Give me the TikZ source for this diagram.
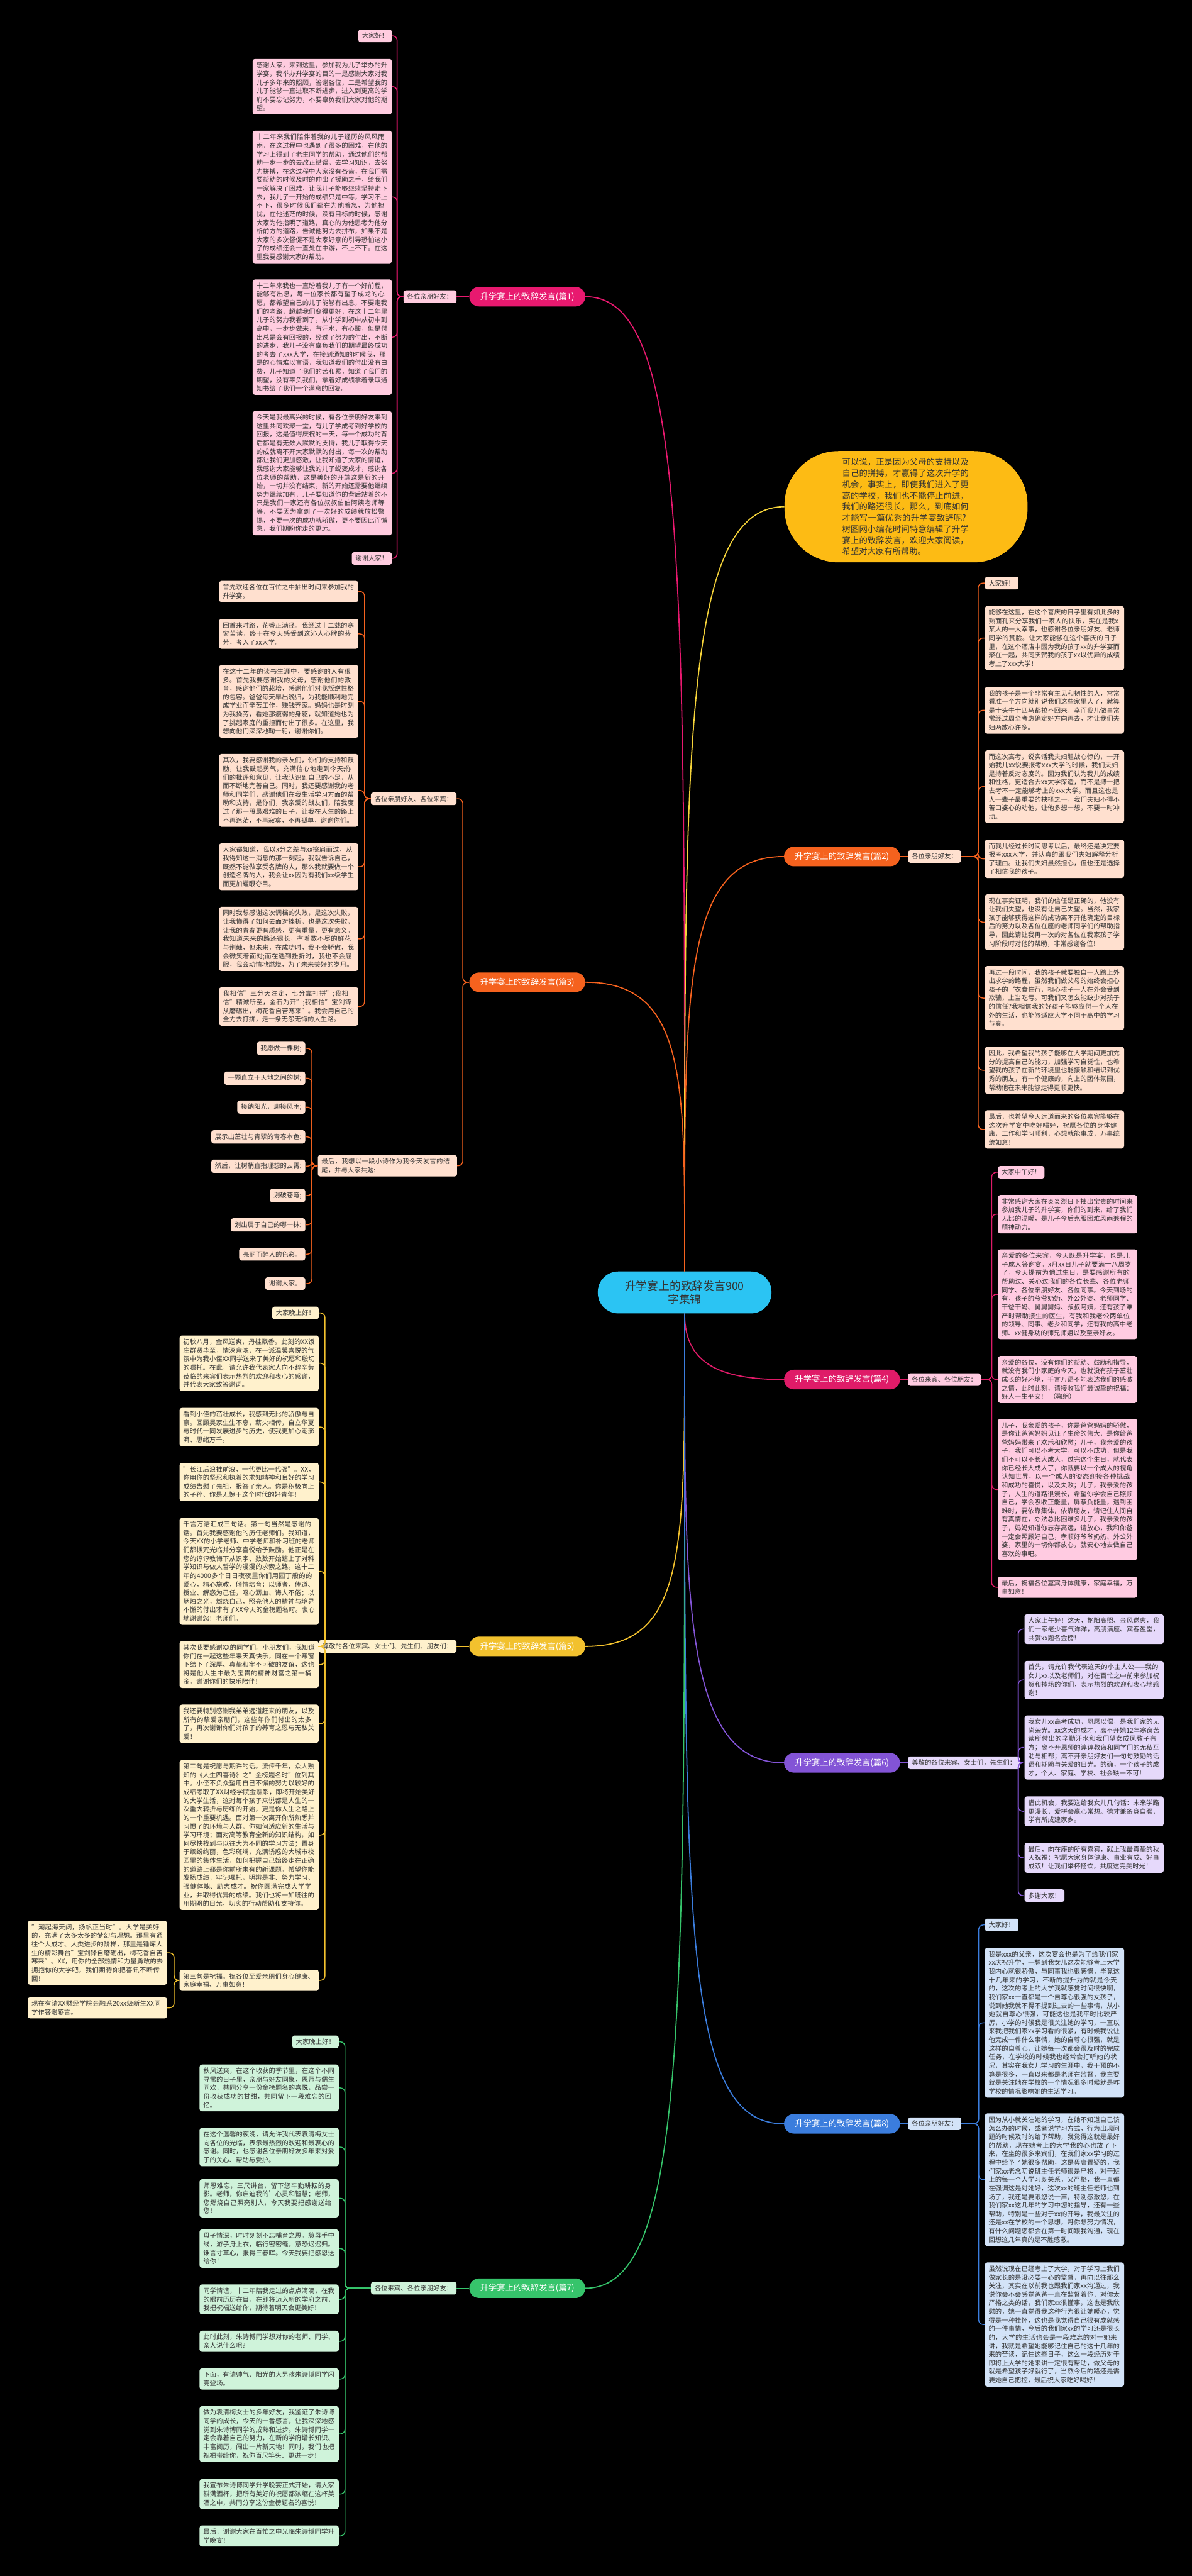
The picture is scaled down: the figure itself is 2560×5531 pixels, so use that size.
\documentclass[tikz,border=0pt]{standalone}
\usepackage{fontspec}
\setmainfont{Noto Sans CJK SC}
\XeTeXlinebreaklocale "zh"
\XeTeXlinebreakskip = 0pt plus 1pt
\definecolor{txt}{HTML}{333333}
\definecolor{cA}{HTML}{E8196F}\definecolor{fA}{HTML}{FFCCDF}
\definecolor{cB}{HTML}{F5621E}\definecolor{fB}{HTML}{FFE0CF}
\definecolor{cD}{HTML}{DF1B68}\definecolor{fD}{HTML}{FFCBE1}
\definecolor{cE}{HTML}{F2C12E}\definecolor{fE}{HTML}{FFF1CC}
\definecolor{cF}{HTML}{8354D6}\definecolor{fF}{HTML}{E6D9FB}
\definecolor{cG}{HTML}{36C46B}\definecolor{fG}{HTML}{CFF3DA}
\definecolor{cH}{HTML}{3B7DDD}\definecolor{fH}{HTML}{D3E3F8}
\definecolor{cY}{HTML}{F5D33A}\definecolor{fY}{HTML}{FDBB14}
\definecolor{fC}{HTML}{2BC4F3}
\begin{document}
\begin{tikzpicture}[x=0.5pt,y=-0.5pt,
  bx/.style={rounded corners=2.5pt, inner xsep=4pt, inner ysep=3.5pt, align=left, text=txt, font=\fontsize{7pt}{9.2pt}\selectfont},
  w/.style={text width=141.5pt},
  lab/.style={rounded corners=10.5pt, minimum width=124.5pt, minimum height=21pt, inner sep=2pt, text=white, font=\fontsize{9pt}{11pt}\selectfont},
  ln/.style={line width=1pt, rounded corners=5pt},
  mc/.style={line width=1.2pt},
  bA/.style={bx, fill=fA}, lA/.style={ln, draw=cA},
  bB/.style={bx, fill=fB}, lB/.style={ln, draw=cB},
  bD/.style={bx, fill=fD}, lD/.style={ln, draw=cD},
  bE/.style={bx, fill=fE}, lE/.style={ln, draw=cE},
  bF/.style={bx, fill=fF}, lF/.style={ln, draw=cF},
  bG/.style={bx, fill=fG}, lG/.style={ln, draw=cG},
  bH/.style={bx, fill=fH}, lH/.style={ln, draw=cH}
]
\fill[black] (0,0) rectangle (2560,5531);
\useasboundingbox (0,0) rectangle (2560,5531);

% center
\node[fill=fC, rounded corners=22pt, minimum width=186.5pt, minimum height=45pt, align=center, text=txt, font=\fontsize{12pt}{14pt}\selectfont] (c) at (1470.5,2775) {升学宴上的致辞发言900\\字集锦};

% yellow note
\node[fill=fY, rounded corners=58pt, minimum width=261pt, minimum height=119.5pt, text width=137pt, align=left, text=txt, font=\fontsize{9pt}{12pt}\selectfont] (n) at (1946,1088) {可以说，正是因为父母的支持以及自己的拼搏，才赢得了这次升学的机会，事实上，即使我们进入了更高的学校，我们也不能停止前进，我们的路还很长。那么，到底如何才能写一篇优秀的升学宴致辞呢?树图网小编花时间特意编辑了升学宴上的致辞发言，欢迎大家阅读，希望对大家有所帮助。};

% branch labels
\node[lab, fill=cA] (l1) at (1132.5,637) {升学宴上的致辞发言(篇1)};
\node[lab, fill=cB] (l2) at (1808.5,1839) {升学宴上的致辞发言(篇2)};
\node[lab, fill=cB] (l3) at (1132.5,2109) {升学宴上的致辞发言(篇3)};
\node[lab, fill=cD] (l4) at (1808.5,2962) {升学宴上的致辞发言(篇4)};
\node[lab, fill=cE] (l5) at (1132.5,3535) {升学宴上的致辞发言(篇5)};
\node[lab, fill=cF] (l6) at (1808.5,3785) {升学宴上的致辞发言(篇6)};
\node[lab, fill=cG] (l7) at (1132.5,4913) {升学宴上的致辞发言(篇7)};
\node[lab, fill=cH] (l8) at (1808.5,4560) {升学宴上的致辞发言(篇8)};

\draw[mc, cA] (c.north) .. controls +(0,-1500) and +(220,0) .. (l1.east);
\draw[mc, cY] (c.north) .. controls +(0,-1100) and +(-220,0) .. (n.west);
\draw[mc, cB] (c.north) .. controls +(0,-600) and +(-220,0) .. (l2.west);
\draw[mc, cB] (c.north) .. controls +(0,-400) and +(220,0) .. (l3.east);
\draw[mc, cD] (c.south) .. controls +(0,100) and +(-150,0) .. (l4.west);
\draw[mc, cE] (c.south) .. controls +(0,500) and +(220,0) .. (l5.east);
\draw[mc, cF] (c.south) .. controls +(0,600) and +(-220,0) .. (l6.west);
\draw[mc, cG] (c.south) .. controls +(0,1500) and +(220,0) .. (l7.east);
\draw[mc, cH] (c.south) .. controls +(0,1300) and +(-220,0) .. (l8.west);

% ---------- 篇1
\node[bA, anchor=east] (s1) at (981,637) {各位亲朋好友：};
\draw[lA] (l1.west) -- (s1.east);
\node[bA, anchor=east] (a1) at (842,77) {大家好！};
\node[bA, w, anchor=east] (a2) at (842,186) {感谢大家，来到这里，参加我为儿子举办的升学宴，我举办升学宴的目的一是感谢大家对我儿子多年来的照顾，答谢各位，二是希望我的儿子能够一直进取不断进步，进入到更高的学府不要忘记努力，不要辜负我们大家对他的期望。};
\node[bA, w, anchor=east] (a3) at (842,423) {十二年来我们陪伴着我的儿子经历的风风雨雨，在这过程中也遇到了很多的困难，在他的学习上得到了老生同学的帮助，通过他们的帮助一步一步的去改正错误，去学习知识，去努力拼搏，在这过程中大家没有吝啬，在我们需要帮助的时候及时的伸出了援助之手，给我们一家解决了困难，让我儿子能够继续坚持走下去，我儿子一开始的成绩只是中等，学习不上不下，很多时候我们都在为他着急，为他担忧，在他迷茫的时候，没有目标的时候，感谢大家为他指明了道路，真心的为他思考为他分析前方的道路，告诫他努力去拼布，如果不是大家的多次督促不是大家好意的引导恐怕这小子的成绩还会一直处在中游，不上不下。在这里我要感谢大家的帮助。};
\node[bA, w, anchor=east] (a4) at (842,724) {十二年来我也一直盼着我儿子有一个好前程，能够有出息，每一位家长都有望子成龙的心愿，都希望自己的儿子能够有出息，不要走我们的老路，超越我们变得更好，在这十二年里儿子的努力我看到了，从小学到初中从初中到高中，一步步做来，有汗水，有心酸，但是付出总是会有回报的，经过了努力的付出，不断的进步，我儿子没有辜负我们的期望最终成功的考去了xxx大学，在接到通知的时候我，那是的心情难以言语，我知道我们的付出没有白费，儿子知道了我们的苦和累，知道了我们的期望，没有辜负我们，拿着好成绩拿着录取通知书给了我们一个满意的回复。};
\node[bA, w, anchor=east] (a5) at (842,1016) {今天是我最高兴的时候，有各位亲朋好友来到这里共同欢聚一堂，有儿子学成考到好学校的回报，这是值得庆祝的一天，每一个成功的背后都是有无数人默默的支持，我儿子取得今天的成就离不开大家默默的付出，每一次的帮助都让我们更加感激，让我知道了大家的情谊，我感谢大家能够让我的儿子蜕变成才，感谢各位老师的帮助，这是美好的开端这是新的开始，一切并没有结束，新的开始还需要他继续努力继续加有，儿子要知道你的背后站着的不只是我们一家还有各位叔叔伯伯阿姨老师等等，不要因为拿到了一次好的成绩就放松警惕，不要一次的成功就骄傲，更不要因此而懈怠，我们期盼你走的更远。};
\node[bA, anchor=east] (a6) at (842,1199) {谢谢大家！};
\foreach \k in {a1,a2,a3,a4,a5,a6} {\draw[lA] (\k.east) -- ++(5.5pt,0) |- (s1.west);}

% ---------- 篇3
\node[bB, anchor=east] (s3a) at (981,1715) {各位亲朋好友、各位来宾：};
\node[bB, w, anchor=east] (s3b) at (982,2503) {最后，我想以一段小诗作为我今天发言的结尾，并与大家共勉:};
\draw[lB] (s3a.east) -- ++(6.5pt,0) |- (l3.west);
\draw[lB] (s3b.east) -- ++(6pt,0) |- (l3.west);
\node[bB, w, anchor=east] (b1) at (770,1270) {首先欢迎各位在百忙之中抽出时间来参加我的升学宴。};
\node[bB, w, anchor=east] (b2) at (770,1361) {回首来时路，花香正满径。我经过十二载的寒窗苦读，终于在今天感受到这沁人心脾的芬芳，考入了xx大学。};
\node[bB, w, anchor=east] (b3) at (770,1506) {在这十二年的读书生涯中，要感谢的人有很多。首先我要感谢我的父母，感谢他们的教育，感谢他们的栽培，感谢他们对我叛逆性格的包容。爸爸每天早出晚归，为我能顺利地完成学业而辛苦工作，赚钱养家。妈妈也是时刻为我操劳，看她那瘦弱的身躯，就知道她也为了挑起家庭的重担而付出了很多。在这里，我想向他们深深地鞠一躬，谢谢你们。};
\node[bB, w, anchor=east] (b4) at (770,1697) {其次，我要感谢我的亲友们，你们的支持和鼓励，让我鼓起勇气，充满信心地走到今天;你们的批评和意见，让我认识到自己的不足，从而不断地完善自己。同时，我还要感谢我的老师和同学们，感谢他们在我生活学习方面的帮助和支持，是你们，我亲爱的战友们，陪我度过了那一段最艰难的日子，让我在人生的路上不再迷茫，不再寂寞，不再孤单，谢谢你们。};
\node[bB, w, anchor=east] (b5) at (770,1861) {大家都知道，我以x分之差与xx擦肩而过，从我得知这一消息的那一刻起，我就告诉自己，既然不能做享受名牌的人，那么我就要做一个创造名牌的人，我会让xx因为有我们xx级学生而更加耀眼夺目。};
\node[bB, w, anchor=east] (b6) at (770,2016) {同时我想感谢这次调档的失败，是这次失败，让我懂得了如何去面对挫折，也是这次失败，让我的青春更有质感，更有重量，更有意义。我知道未来的路还很长，有着数不尽的鲜花与荆棘，但未来，在成功时，我不会骄傲，我会微笑着面对;而在遇到挫折时，我也不会屈服，我会动情地燃烧，为了未来美好的岁月。};
\node[bB, w, anchor=east] (b7) at (770,2161) {我相信"三分天注定，七分靠打拼";我相信"精诚所至，金石为开";我相信"宝剑锋从磨砺出，梅花香自苦寒来"。我会用自己的全力去打拼，走一条无怨无悔的人生路。};
\foreach \k in {b1,b2,b3,b4,b5,b6,b7} {\draw[lB] (\k.east) -- ++(6.5pt,0) |- (s3a.west);}
\node[bB, anchor=east] (t1) at (656,2251) {我愿做一棵树;};
\node[bB, anchor=east] (t2) at (656,2315) {一颗直立于天地之间的树;};
\node[bB, anchor=east] (t3) at (656,2377) {接纳阳光，迎接风雨;};
\node[bB, anchor=east] (t4) at (656,2441) {展示出茁壮与青翠的青春本色;};
\node[bB, anchor=east] (t5) at (656,2504) {然后，让树梢直指理想的云霄;};
\node[bB, anchor=east] (t6) at (656,2567) {划破苍穹;};
\node[bB, anchor=east] (t7) at (656,2630) {划出属于自己的哪一抹;};
\node[bB, anchor=east] (t8) at (656,2693) {亮丽而醉人的色彩。};
\node[bB, anchor=east] (t9) at (656,2756) {谢谢大家。};
\foreach \k in {t1,t2,t3,t4,t5,t6,t7,t8,t9} {\draw[lB] (\k.east) -- ++(7pt,0) |- (s3b.west);}

% ---------- 篇5
\node[bE, anchor=east] (s5) at (981,3535) {尊敬的各位来宾、女士们、先生们、朋友们：};
\draw[lE] (l5.west) -- (s5.east);
\node[bE, anchor=east] (e1) at (685,2819) {大家晚上好！};
\node[bE, w, anchor=east] (e2) at (685,2927) {初秋八月，金风送爽，丹桂飘香。此刻的XX饭庄群贤毕至，情深意浓，在一派温馨喜悦的气氛中为我小侄XX同学送来了美好的祝愿和殷切的嘱托。在此，请允许我代表家人向不辞辛劳莅临的来宾们表示热烈的欢迎和衷心的感谢，并代表大家致答谢词。};
\node[bE, w, anchor=east] (e3) at (685,3064) {看到小侄的茁壮成长，我感到无比的骄傲与自豪。回顾吴家生生不息，薪火相传，自立华夏与时代一同发展进步的历史，使我更加心潮澎湃、思绪万千。};
\node[bE, w, anchor=east] (e4) at (685,3182) {"长江后浪推前浪，一代更比一代强"。XX，你用你的坚忍和执着的求知精神和良好的学习成绩告慰了先祖，报答了亲人。你是积极向上的子孙、你是无愧于这个时代的好青年！};
\node[bE, w, anchor=east] (e5) at (685,3374) {千言万语汇成三句话。第一句当然是感谢的话。首先我要感谢他的历任老师们。我知道，今天XX的小学老师、中学老师和补习班的老师们都拨冗光临并分享喜悦给予鼓励。他正是在您的谆谆教诲下从识字、数数开始踏上了对科学知识与做人哲学的漫漫的求索之路。这十二年的4000多个日日夜夜里你们用园丁般的的爱心，精心施教，倾情培育；以师者，传道、授业、解惑为己任，呕心沥血、诲人不倦；以炳烛之光，燃烧自己，照亮他人的精神与境界不懈的付出才有了XX今天的金榜题名时。衷心地谢谢您！老师们。};
\node[bE, w, anchor=east] (e6) at (685,3574) {其次我要感谢XX的同学们。小朋友们，我知道你们在一起这些年来天真快乐，同在一个寒窗下结下了深厚、真挚和牢不可破的友谊，这也将是他人生中最为宝贵的精神财富之第一桶金。谢谢你们的快乐陪伴！};
\node[bE, w, anchor=east] (e7) at (685,3701) {我还要特别感谢我弟弟远道赶来的朋友，以及所有的挚爱亲朋们，这些年你们付出的太多了，再次谢谢你们对孩子的养育之恩与无私关爱！};
\node[bE, w, anchor=east] (e8) at (685,3940) {第二句是祝愿与期许的话。流传千年，众人熟知的《人生四喜诗》之"金榜题名时"位列其中。小侄不负众望用自己不懈的努力以较好的成绩考取了XX财经学院金融系，即将开始美好的大学生活，这对每个孩子来说都是人生的一次重大转折与历练的开始，更是你人生之路上的一个重要机遇。面对第一次离开你所熟悉并习惯了的环境与人群，你如何适应新的生活与学习环境；面对高等教育全新的知识结构，如何尽快找到与以往大为不同的学习方法；置身于缤纷绚丽，色彩斑斓，充满诱惑的大城市校园里的集体生活，如何把握自己始终走在正确的道路上都是你前所未有的新课题。希望你能发扬成绩，牢记嘱托，明辨是非、努力学习、强健体魄、励志成才。祝你圆满完成大学学业，并取得优异的成绩。我们也将一如既往的用期盼的目光，切实的行动帮助和支持你。};
\node[bE, w, anchor=east] (e9) at (685,4252) {第三句是祝福。祝各位至爱亲朋们身心健康、家庭幸福、万事如意！};
\foreach \k in {e1,e2,e3,e4,e5,e6,e7,e8,e9} {\draw[lE] (\k.east) -- ++(6.5pt,0) |- (s5.west);}
\node[bE, w, anchor=east] (f1) at (359,4193) {"潮起海天阔，扬帆正当时"。大学是美好的，充满了太多太多的梦幻与理想。那里有通往个人成才、人类进步的阶梯，那里是锤炼人生的精彩舞台"宝剑锋自磨砺出，梅花香自苦寒来"。XX，用你的全部热情和力量勇敢的去拥抱你的大学吧，我们期待你把喜讯不断传回！};
\node[bE, w, anchor=east] (f2) at (359,4311) {现在有请XX财经学院金融系20xx级新生XX同学作答谢感言。};
\foreach \k in {f1,f2} {\draw[lE] (\k.east) -- ++(7.5pt,0) |- (e9.west);}

% ---------- 篇7
\node[bG, anchor=east] (s7) at (981,4913) {各位来宾、各位亲朋好友：};
\draw[lG] (l7.west) -- (s7.east);
\node[bG, anchor=east] (g1) at (728,4384) {大家晚上好！};
\node[bG, w, anchor=east] (g2) at (728,4483) {秋风送爽，在这个收获的季节里，在这个不同寻常的日子里，亲朋与好友同聚，恩师与儒生同欢，共同分享一份金榜题名的喜悦，品尝一份收获成功的甘甜，共同留下一段难忘的回忆。};
\node[bG, w, anchor=east] (g3) at (728,4610) {在这个温馨的夜晚，请允许我代表袁清梅女士向各位的光临，表示最热烈的欢迎和最衷心的感谢。同时，也感谢各位亲朋好友多年来对爱子的关心、帮助与爱护。};
\node[bG, w, anchor=east] (g4) at (728,4720) {师恩难忘，三尺讲台，留下您辛勤耕耘的身影。老师，你启迪我的'心灵和智慧；老师，您燃烧自己照亮别人，今天我要把感谢送给您！};
\node[bG, w, anchor=east] (g5) at (728,4828) {母子情深，时时刻刻不忘哺育之恩。慈母手中线，游子身上衣，临行密密缝，意恐迟迟归。谁言寸草心，报得三春晖。今天我要把感恩送给你！};
\node[bG, w, anchor=east] (g6) at (728,4937) {同学情谊，十二年陪我走过的点点滴滴，在我的眼前历历在目，在即将迈入新的学府之前，我把祝福送给你，期待着明天会更美好！};
\node[bG, w, anchor=east] (g7) at (728,5027) {此时此刻，朱诗博同学想对你的老师、同学、亲人说什么呢?};
\node[bG, w, anchor=east] (g8) at (728,5108) {下面，有请帅气、阳光的大男孩朱诗博同学闪亮登场。};
\node[bG, w, anchor=east] (g9) at (728,5226) {做为袁清梅女士的多年好友，我鉴证了朱诗博同学的成长，今天的一番感言，让我深深地感觉到朱诗博同学的成熟和进步。朱诗博同学一定会靠着自己的努力，在新的学府增长知识、丰富阅历，闯出一片新天地！同时，我们也把祝福带给你，祝你百尺竿头、更进一步！};
\node[bG, w, anchor=east] (g10) at (728,5355) {我宣布朱诗博同学升学晚宴正式开始，请大家斟满酒杯，把所有美好的祝愿都浓缩在这杯美酒之中，共同分享这份金榜题名的喜悦！};
\node[bG, w, anchor=east] (g11) at (728,5445) {最后，谢谢大家在百忙之中光临朱诗博同学升学晚宴！};
\foreach \k in {g1,g2,g3,g4,g5,g6,g7,g8,g9,g10,g11} {\draw[lG] (\k.east) -- ++(6.5pt,0) |- (s7.west);}

% ---------- 篇2
\node[bB, anchor=west] (s2) at (1950,1839) {各位亲朋好友：};
\draw[lB] (l2.east) -- (s2.west);
\node[bB, anchor=west] (h1) at (2115,1252) {大家好！};
\node[bB, w, anchor=west] (h2) at (2115,1370) {能够在这里，在这个喜庆的日子里有如此多的熟面孔来分享我们一家人的快乐，实在是我x某人的一大幸事，也感谢各位亲朋好友、老师同学的赏脸。让大家能够在这个喜庆的日子里，在这个酒店中因为我的孩子xx的升学宴而聚在一起，共同庆贺我的孩子xx以优异的成绩考上了xxx大学！};
\node[bB, w, anchor=west] (h3) at (2115,1525) {我的孩子是一个非常有主见和韧性的人，常常看准一个方向就别说我们这些家里人了，就算是十头牛十匹马都拉不回来。幸而我儿做事常常经过周全考虑确定好方向再去，才让我们夫妇两放心许多。};
\node[bB, w, anchor=west] (h4) at (2115,1689) {而这次高考，说实话我夫妇胆战心惊的，一开始我儿xx说要报考xxx大学的时候，我们夫妇是持着反对态度的。因为我们认为我儿的成绩和性格，更适合去xx大学深造，而不是搏一把去考不一定能够考上的xxx大学。而且这也是人一辈子最重要的抉择之一，我们夫妇不得不苦口婆心的劝他，让他多想一想，不要一时冲动。};
\node[bB, w, anchor=west] (h5) at (2115,1844) {而我儿经过长时间思考以后，最终还是决定要报考xxx大学，并认真的跟我们夫妇解释分析了理由。让我们夫妇虽然担心，但也还是选择了相信我的孩子。};
\node[bB, w, anchor=west] (h6) at (2115,1980) {现在事实证明，我们的信任是正确的，他没有让我们失望，也没有让自己失望。当然，我家孩子能够获得这样的成功离不开他确定的目标后的努力以及各位在座的老师同学们的帮助指导，因此请让我再一次的对各位在我家孩子学习阶段时对他的帮助，非常感谢各位！};
\node[bB, w, anchor=west] (h7) at (2115,2143) {再过一段时间，我的孩子就要独自一人踏上外出求学的路程，虽然我们做父母的始终会担心孩子的`衣食住行，担心孩子一人在外会受到欺骗，上当吃亏。可我们又怎么能缺少对孩子的信任?我相信我的好孩子能够应付一个人在外的生活，也能够适应大学不同于高中的学习节奏。};
\node[bB, w, anchor=west] (h8) at (2115,2298) {因此，我希望我的孩子能够在大学期间更加充分的提高自己的能力，加强学习自觉性，也希望我的孩子在新的环境里也能接触和结识到优秀的朋友，有一个健康的，向上的团体氛围，帮助他在未来能够走得更顺更快。};
\node[bB, w, anchor=west] (h9) at (2115,2425) {最后，也希望今天远道而来的各位嘉宾能够在这次升学宴中吃好喝好，祝愿各位的身体健康，工作和学习顺利，心想就能事成，万事统统如意！};
\foreach \k in {h1,h2,h3,h4,h5,h6,h7,h8,h9} {\draw[lB] (\k.west) -- ++(-7pt,0) |- (s2.east);}

% ---------- 篇4
\node[bD, anchor=west] (s4) at (1950,2962) {各位来宾、各位朋友：};
\draw[lD] (l4.east) -- (s4.west);
\node[bD, anchor=west] (i1) at (2143,2517) {大家中午好！};
\node[bD, w, anchor=west] (i2) at (2143,2607) {非常感谢大家在炎炎烈日下抽出宝贵的时间来参加我儿子的升学宴，你们的到来，给了我们无比的温暖，是儿子今后克服困难风雨兼程的精神动力。};
\node[bD, w, anchor=west] (i3) at (2143,2779) {亲爱的各位来宾，今天既是升学宴，也是儿子成人答谢宴。x月xx日儿子就要满十八周岁了，今天提前为他过生日，是要感谢所有的帮助过、关心过我们的各位长辈、各位老师同学、各位亲朋好友、各位同事。今天到场的有，孩子的爷爷奶奶、外公外婆、老师同学、干爸干妈、舅舅舅妈、叔叔阿姨，还有孩子难产时帮助接生的医生，有我和我老公两单位的领导、同事、老乡和同学，还有我的高中老师、xx健身功的师兄师姐以及至亲好友。};
\node[bD, w, anchor=west] (i4) at (2143,2962) {亲爱的各位，没有你们的帮助、鼓励和指导，就没有我们小家庭的今天，也就没有孩子茁壮成长的好环境，千言万语不能表达我们的感激之情，此时此刻，请接收我们最诚挚的祝福：好人一生平安！ （鞠躬）};
\node[bD, w, anchor=west] (i5) at (2143,3198) {儿子，我亲爱的孩子，你是爸爸妈妈的骄傲，是你让爸爸妈妈见证了生命的伟大，是你给爸爸妈妈带来了欢乐和欣慰；儿子，我亲爱的孩子，我们可以不考大学，可以不成功，但是我们不可以不长大成人，过完这个生日，就代表你已经长大成人了，你就要以一个成人的视角认知世界，以一个成人的姿态迎接各种挑战和成功的喜悦，以及失败；儿子，我亲爱的孩子，人生的道路很漫长，希望你学会自己照顾自己，学会吸收正能量，屏蔽负能量，遇到困难时，要依靠集体，依靠朋友，请记住人间自有真情在，办法总比困难多儿子，我亲爱的孩子，妈妈知道你志存高远，请放心，我和你爸一定会照顾好自己，孝顺好爷爷奶奶、外公外婆，家里的一切你都放心，就安心地去做自己喜欢的事吧。};
\node[bD, w, anchor=west] (i6) at (2143,3408) {最后，祝福各位嘉宾身体健康，家庭幸福，万事如意！};
\foreach \k in {i1,i2,i3,i4,i5,i6} {\draw[lD] (\k.west) -- ++(-6.5pt,0) |- (s4.east);}

% ---------- 篇6
\node[bF, anchor=west] (s6) at (1950,3785) {尊敬的各位来宾、女士们，先生们：};
\draw[lF] (l6.east) -- (s6.west);
\node[bF, w, anchor=west] (j1) at (2200,3498) {大家上午好！这天，艳阳高照、金风送爽，我们一家老少喜气洋洋，高朋满座、宾客盈堂，共贺xx题名金榜！};
\node[bF, w, anchor=west] (j2) at (2200,3607) {首先，请允许我代表这天的小主人公——我的女儿xx以及老师们，对在百忙之中前来参加祝贺和捧场的你们，表示热烈的欢迎和衷心地感谢！};
\node[bF, w, anchor=west] (j3) at (2200,3752) {我女儿xx高考成功，夙愿以偿，是我们家的无尚荣光。xx这天的成才，离不开她12年寒窗苦读所付出的辛勤汗水和我们望女成凤教子有方；离不开恩师的谆谆教诲和同学们的无私互助与相帮；离不开亲朋好友们一句句鼓励的话语和期盼与关爱的目光。的确，一个孩子的成才，个人、家庭、学校、社会缺一不可！};
\node[bF, w, anchor=west] (j4) at (2200,3889) {借此机会，我要送给我女儿几句话：未来学路更漫长，爱拼会赢心常想。德才兼备身自强，学有所成建家乡。};
\node[bF, w, anchor=west] (j5) at (2200,3989) {最后，向在座的所有嘉宾，献上我最真挚的秋天祝福：祝愿大家身体健康、事业有成、好事成双！让我们举杯畅饮，共度这完美时光！};
\node[bF, anchor=west] (j6) at (2200,4070) {多谢大家！};
\foreach \k in {j1,j2,j3,j4,j5,j6} {\draw[lF] (\k.west) -- ++(-6.5pt,0) |- (s6.east);}

% ---------- 篇8
\node[bH, anchor=west] (s8) at (1950,4560) {各位亲朋好友：};
\draw[lH] (l8.east) -- (s8.west);
\node[bH, anchor=west] (k1) at (2115,4133) {大家好！};
\node[bH, w, anchor=west] (k2) at (2115,4343) {我是xxx的父亲，这次宴会也是为了给我们家xx庆祝升学，一想到我女儿这次能够考上大学我内心就很骄傲，与同事我也很感慨，毕竟这十几年来的学习，不断的提升为的就是今天的，这次的考上的大学我就感觉时间很快啊，我们家xx一直都是一个自尊心很强的女孩子，说到她我就不得不提到过去的一些事情，从小她就自尊心很强，可能这也是我平时比较严厉，小学的时候我是很关注她的学习，一直以来我把我们家xx学习看的很紧，有时候我说让他完成一件什么事情，她的自尊心很强，就是这样的自尊心，让她每一次都会很及时的完成任务，在学校的时候我也经常会打听她的状况，其实在我女儿学习的生涯中，我干预的不算是很多，一直以来都是老师在监督，我主要就是关注她在学校的一个情况很多时候就是咋学校的情况影响她的生活学习。};
\node[bH, w, anchor=west] (k3) at (2115,4680) {因为从小就关注她的学习，在她不知道自己该怎么办的时候，或者说学习方式，行为出现问题的时候及时的给予帮助，我觉得这就是最好的帮助，现在她考上的大学我的心也放了下来，在坐的很多来宾们，在我们家xx学习的过程中给予了她很多帮助，这是毋庸置疑的，我们家xx老念叨说班主任老师很是严格，对于班上的每一个人学习既关系，又严格，我一直都在强调这是对她好，这次xx的班主任老师也到场了，我还是要跟您说一声，特别感激您，在我们家xx这几年的学习中您的指导，还有一些帮助，特别是一些对于xx的开导，我最关注的还是xx在学校的一个思想，哥你想努力情况，有什么问题您都会在第一时间跟我沟通，现在回想这几年真的是不胜感激。};
\node[bH, w, anchor=west] (k4) at (2115,4991) {虽然说现在已经考上了大学，对于学习上我们做家长的是没必要一心的监督，再向以往那么关注，其实在以前我也跟我们家xx沟通过，我说你会不会感觉爸爸一直在监督着你，对你太严格之类的话，我们家xx很懂事，这也是我欣慰的，她一直觉得我这种行为很让她暖心，觉得是一种挂怀，这也是我觉得自己很有成就感的一件事情，今后的我们家xx的学习还是很长的，大学的生活也会是一段难忘的对于她来讲，我就是希望她能够记住自己的这十几年的来的苦读，记住这些日子，这么一段经历对于即将上大学的她来讲一定很有帮助，做父母的就是希望孩子好就行了，当然今后的路还是需要她自己把控，最后祝大家吃好喝好！};
\foreach \k in {k1,k2,k3,k4} {\draw[lH] (\k.west) -- ++(-6.5pt,0) |- (s8.east);}
\end{tikzpicture}
\end{document}
